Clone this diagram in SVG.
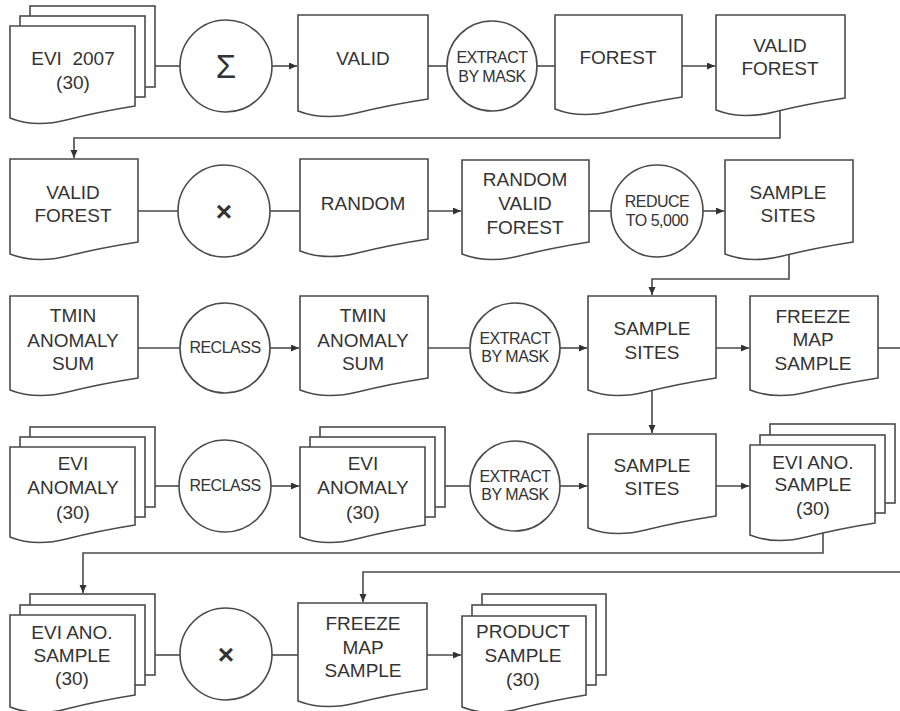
<svg xmlns="http://www.w3.org/2000/svg" width="900" height="711" viewBox="0 0 900 711">
<style>
.s{fill:#fff;stroke:#4a4a4a;stroke-width:1.6}
.c{fill:none;stroke:#4a4a4a;stroke-width:1.6}
.a{marker-end:url(#ah)}
text{font-family:"Liberation Sans",Arial,sans-serif;fill:#333;text-anchor:middle}
.t{font-size:19px}
.o{font-size:16px;letter-spacing:-0.5px}
</style>
<defs>
<marker id="ah" markerWidth="9" markerHeight="8" refX="8" refY="3.5" orient="auto" markerUnits="userSpaceOnUse">
<path d="M0,0 L8,3.5 L0,7 z" fill="#333"/>
</marker>
</defs>
<rect width="900" height="711" fill="#fff"/>
<g id="connectors">
<path class="c" d="M155,66 H180"/>
<path class="c a" d="M272,66 H297"/>
<path class="c" d="M428,66 H447"/>
<path class="c" d="M537,66 H555"/>
<path class="c a" d="M682,66 H715"/>
<path class="c a" d="M780,105 V138 H74 V158"/>
<path class="c" d="M138,211 H178"/>
<path class="c" d="M270,211 H300"/>
<path class="c a" d="M428,211 H461"/>
<path class="c" d="M589,211 H611"/>
<path class="c a" d="M703,211 H724"/>
<path class="c a" d="M789,245 V279 H652 V295"/>
<path class="c" d="M138,348 H180"/>
<path class="c a" d="M270,348 H299"/>
<path class="c" d="M428,348 H470"/>
<path class="c a" d="M560,348 H587"/>
<path class="c a" d="M716,348 H749"/>
<path class="c" d="M878,348 H900"/>
<path class="c a" d="M652,385 V433"/>
<path class="c" d="M155,486 H179"/>
<path class="c a" d="M271,486 H299"/>
<path class="c" d="M445,486 H470"/>
<path class="c a" d="M560,486 H587"/>
<path class="c a" d="M716,486 H749"/>
<path class="c a" d="M823,520 V553 H83 V593"/>
<path class="c a" d="M900,572 H363 V602"/>
<path class="c" d="M155,655 H180"/>
<path class="c" d="M272,655 H298"/>
<path class="c a" d="M427,655 H461"/>
</g>
<g id="evi2007">
<rect class="s" x="30" y="6" width="125" height="81"/>
<rect class="s" x="20" y="16" width="125" height="81"/>
<path class="s" d="M10,26 H135 V106 Q97.5,112 66.25,120 Q35,128 10,118 Z"/>
<text class="t" x="73" y="65" xml:space="preserve">EVI  2007</text>
<text class="t" x="73" y="89">(30)</text>
</g>
<g id="sum">
<circle class="s" cx="226" cy="66" r="46"/>
<text x="226" y="78" style="font-size:33px">Σ</text>
</g>
<g id="valid">
<path class="s" d="M298,15 H428 V99 Q389,105 356.5,113 Q324,121 298,111 Z"/>
<text class="t" x="363" y="65">VALID</text>
</g>
<g id="extract1">
<circle class="s" cx="492" cy="66" r="45"/>
<text class="o" x="492" y="63">EXTRACT</text>
<text class="o" x="492" y="82">BY MASK</text>
</g>
<g id="forest">
<path class="s" d="M555,15 H682 V97 Q643.9,103 612.15,111 Q580.4,119 555,109 Z"/>
<text class="t" x="618" y="64">FOREST</text>
</g>
<g id="validforest1">
<path class="s" d="M716,15 H845 V98 Q806.3,104 774.05,112 Q741.8,120 716,110 Z"/>
<text class="t" x="780" y="52">VALID</text>
<text class="t" x="780" y="75">FOREST</text>
</g>
<g id="validforest2">
<path class="s" d="M10,159 H138 V242 Q99.6,248 67.6,256 Q35.6,264 10,254 Z"/>
<text class="t" x="73" y="199">VALID</text>
<text class="t" x="73" y="222">FOREST</text>
</g>
<g id="times1">
<circle class="s" cx="224" cy="211" r="46"/>
<text x="224" y="221" style="font-size:28px;font-weight:bold">×</text>
</g>
<g id="random">
<path class="s" d="M300,159 H428 V239 Q389.6,245 357.6,253 Q325.6,261 300,251 Z"/>
<text class="t" x="363" y="210">RANDOM</text>
</g>
<g id="randomvalidforest">
<path class="s" d="M462,160 H589 V242 Q550.9,248 519.15,256 Q487.4,264 462,254 Z"/>
<text class="t" x="525" y="186">RANDOM</text>
<text class="t" x="525" y="210">VALID</text>
<text class="t" x="525" y="234">FOREST</text>
</g>
<g id="reduce">
<circle class="s" cx="657" cy="211" r="46"/>
<text class="o" x="657" y="207">REDUCE</text>
<text class="o" x="657" y="226">TO 5,000</text>
</g>
<g id="samplesites2">
<path class="s" d="M725,160 H853 V242 Q814.6,248 782.6,256 Q750.6,264 725,254 Z"/>
<text class="t" x="788" y="199">SAMPLE</text>
<text class="t" x="788" y="222">SITES</text>
</g>
<g id="tmin1">
<path class="s" d="M10,296 H138 V378 Q99.6,384 67.6,392 Q35.6,400 10,390 Z"/>
<text class="t" x="73" y="322">TMIN</text>
<text class="t" x="73" y="347">ANOMALY</text>
<text class="t" x="73" y="370">SUM</text>
</g>
<g id="reclass1">
<circle class="s" cx="225" cy="348" r="45"/>
<text class="o" x="225" y="353">RECLASS</text>
</g>
<g id="tmin2">
<path class="s" d="M300,296 H428 V378 Q389.6,384 357.6,392 Q325.6,400 300,390 Z"/>
<text class="t" x="363" y="322">TMIN</text>
<text class="t" x="363" y="347">ANOMALY</text>
<text class="t" x="363" y="370">SUM</text>
</g>
<g id="extract2">
<circle class="s" cx="515" cy="348" r="45"/>
<text class="o" x="515" y="344">EXTRACT</text>
<text class="o" x="515" y="362">BY MASK</text>
</g>
<g id="samplesites3">
<path class="s" d="M588,296 H716 V378 Q677.6,384 645.6,392 Q613.6,400 588,390 Z"/>
<text class="t" x="652" y="335">SAMPLE</text>
<text class="t" x="652" y="359">SITES</text>
</g>
<g id="freeze3">
<path class="s" d="M750,296 H878 V378 Q839.6,384 807.6,392 Q775.6,400 750,390 Z"/>
<text class="t" x="813" y="323">FREEZE</text>
<text class="t" x="813" y="346">MAP</text>
<text class="t" x="813" y="370">SAMPLE</text>
</g>
<g id="evianomaly1">
<rect class="s" x="30" y="427" width="125" height="80"/>
<rect class="s" x="20" y="437" width="125" height="80"/>
<path class="s" d="M10,447 H135 V525 Q97.5,531 66.25,539 Q35,547 10,537 Z"/>
<text class="t" x="73" y="470">EVI</text>
<text class="t" x="73" y="494">ANOMALY</text>
<text class="t" x="73" y="519">(30)</text>
</g>
<g id="reclass2">
<circle class="s" cx="225" cy="486" r="46"/>
<text class="o" x="225" y="491">RECLASS</text>
</g>
<g id="evianomaly2">
<rect class="s" x="320" y="427" width="125" height="80"/>
<rect class="s" x="310" y="437" width="125" height="80"/>
<path class="s" d="M300,447 H425 V525 Q387.5,531 356.25,539 Q325,547 300,537 Z"/>
<text class="t" x="363" y="470">EVI</text>
<text class="t" x="363" y="494">ANOMALY</text>
<text class="t" x="363" y="519">(30)</text>
</g>
<g id="extract3">
<circle class="s" cx="515" cy="486" r="45"/>
<text class="o" x="515" y="482">EXTRACT</text>
<text class="o" x="515" y="500">BY MASK</text>
</g>
<g id="samplesites4">
<path class="s" d="M588,434 H716 V516 Q677.6,522 645.6,530 Q613.6,538 588,528 Z"/>
<text class="t" x="652" y="472">SAMPLE</text>
<text class="t" x="652" y="495">SITES</text>
</g>
<g id="evianosample4">
<rect class="s" x="770" y="424" width="125" height="79"/>
<rect class="s" x="760" y="435" width="125" height="78"/>
<path class="s" d="M750,445 H875 V523 Q837.5,529 806.25,537 Q775,545 750,535 Z"/>
<text class="t" x="813" y="469">EVI ANO.</text>
<text class="t" x="813" y="491">SAMPLE</text>
<text class="t" x="813" y="515">(30)</text>
</g>
<g id="evianosample5">
<rect class="s" x="30" y="594" width="125" height="81"/>
<rect class="s" x="20" y="605" width="125" height="80"/>
<path class="s" d="M10,615 H135 V695 Q97.5,701 66.25,709 Q35,717 10,707 Z"/>
<text class="t" x="72" y="639">EVI ANO.</text>
<text class="t" x="72" y="662">SAMPLE</text>
<text class="t" x="72" y="685">(30)</text>
</g>
<g id="times2">
<circle class="s" cx="226" cy="654" r="46"/>
<text x="226" y="664" style="font-size:28px;font-weight:bold">×</text>
</g>
<g id="freeze5">
<path class="s" d="M298,603 H427 V689 Q388.3,695 356.05,703 Q323.8,711 298,701 Z"/>
<text class="t" x="363" y="630">FREEZE</text>
<text class="t" x="363" y="654">MAP</text>
<text class="t" x="363" y="677">SAMPLE</text>
</g>
<g id="product">
<rect class="s" x="482" y="594" width="124" height="81"/>
<rect class="s" x="472" y="605" width="124" height="80"/>
<path class="s" d="M462,616 H586 V695 Q548.8,701 517.8,709 Q486.8,717 462,707 Z"/>
<text class="t" x="523" y="638">PRODUCT</text>
<text class="t" x="523" y="662">SAMPLE</text>
<text class="t" x="523" y="686">(30)</text>
</g>
</svg>
